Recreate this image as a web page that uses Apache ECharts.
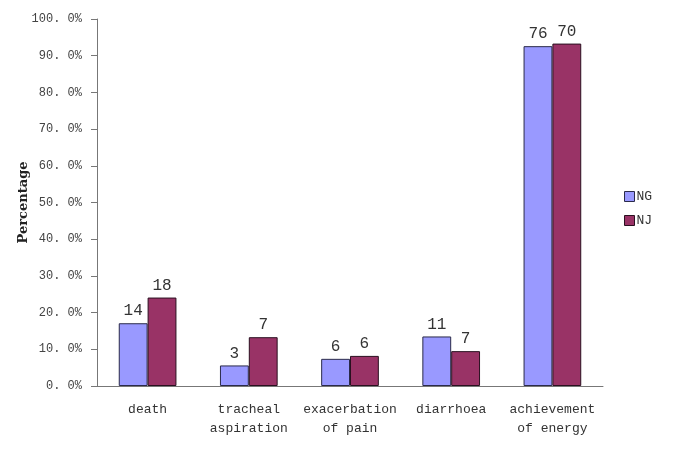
<!DOCTYPE html>
<html><head><meta charset="utf-8">
<script src="https://cdn.jsdelivr.net/npm/echarts@6/dist/echarts.min.js"></script>
<style>html,body{margin:0;padding:0;background:#fff}#c{width:685px;height:451px}</style>
</head><body><div id="c"></div>
<script>
const categories = ['death', 'tracheal\naspiration', 'exacerbation\nof pain', 'diarrhoea', 'achievement\nof energy'];
const ngPercent = [17.1, 5.6, 7.4, 13.5, 92.6];
const njPercent = [24.1, 13.3, 8.2, 9.5, 93.3];
const ngCounts = [14, 3, 6, 11, 76];
const njCounts = [18, 7, 6, 7, 70];
const seriesNames = ['NG', 'NJ'];
const FONT = '"Liberation Mono", "DejaVu Sans Mono", monospace';

const chart = echarts.init(document.getElementById('c'), null, {renderer: 'canvas'});
function lbl(counts) {
  return {show: true, position: 'top', distance: 4, fontFamily: FONT, fontSize: 16, color: '#333',
    formatter: p => String(counts[p.dataIndex])};
}
chart.setOption({
  animation: false,
  backgroundColor: '#fff',
  grid: {left: 97, right: 82, top: 19, bottom: 65, containLabel: false},
  legend: {
    orient: 'vertical', left: 619, top: 185, itemWidth: 10, itemHeight: 10, itemGap: 11,
    icon: 'rect',
    itemStyle: {borderWidth: 1},
    textStyle: {fontFamily: FONT, fontSize: 13, color: '#333', padding: [0,0,0,-3]},
    data: seriesNames
  },
  xAxis: {
    type: 'category', data: categories,
    axisLine: {lineStyle: {color: '#777', width: 1}},
    axisTick: {show: false},
    axisLabel: {fontFamily: FONT, fontSize: 13, color: '#333', lineHeight: 19, margin: 14, interval: 0}
  },
  yAxis: {
    type: 'value', min: 0, max: 100, interval: 10,
    name: 'Percentage', nameLocation: 'middle', nameGap: 67, nameRotate: 90,
    nameMoveOverlap: false,
    nameTextStyle: {fontFamily: '"DejaVu Serif", serif', fontWeight: 'bold', fontSize: 13, color: '#222'},
    axisLine: {show: true, lineStyle: {color: '#777', width: 1}},
    axisTick: {show: true, length: 6, inside: false, lineStyle: {color: '#777'}},
    splitLine: {show: false},
    axisLabel: {fontFamily: FONT, fontSize: 12, color: '#444', margin: 15,
      formatter: v => v.toFixed(0) + '. 0%'}
  },
  series: [
    {name: seriesNames[0], type: 'bar', data: ngPercent, barGap: '0%', barCategoryGap: '43%',
     itemStyle: {color: '#9999FF', borderColor: '#2a2a4a', borderWidth: 1}, label: lbl(ngCounts)},
    {name: seriesNames[1], type: 'bar', data: njPercent, barGap: '0%', barCategoryGap: '43%',
     itemStyle: {color: '#993366', borderColor: '#2a1020', borderWidth: 1}, label: lbl(njCounts)}
  ]
});
</script></body></html>
